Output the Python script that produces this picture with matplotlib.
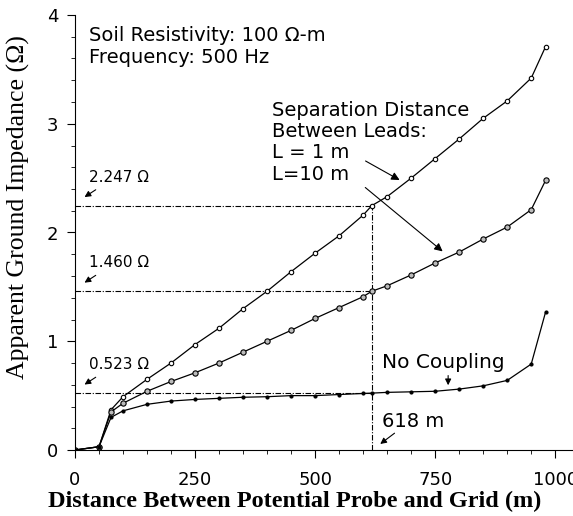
#!/usr/bin/env python3
"""Apparent ground impedance vs. distance between potential probe and grid."""

import matplotlib

matplotlib.use("Agg")
import matplotlib.pyplot as plt  # noqa: E402
from matplotlib.ticker import MultipleLocator  # noqa: E402

# distances (m)
dist_l1 = [0, 50, 75, 100, 150, 200, 250, 300, 350, 400, 450, 500, 550, 600,
           618, 650, 700, 750, 800, 850, 900, 950, 980]
imp_l1 = [0.0, 0.03, 0.37, 0.49, 0.65, 0.80, 0.97, 1.12, 1.30, 1.46, 1.64,
          1.81, 1.97, 2.16, 2.247, 2.33, 2.50, 2.68, 2.86, 3.05, 3.21, 3.42, 3.71]

dist_l10 = [0, 50, 75, 100, 150, 200, 250, 300, 350, 400, 450, 500, 550, 600,
            618, 650, 700, 750, 800, 850, 900, 950, 980]
imp_l10 = [0.0, 0.03, 0.35, 0.43, 0.54, 0.63, 0.71, 0.80, 0.90, 1.00, 1.10,
           1.21, 1.31, 1.41, 1.460, 1.51, 1.61, 1.72, 1.82, 1.94, 2.05, 2.21, 2.48]

dist_nc = [0, 50, 75, 100, 150, 200, 250, 300, 350, 400, 450, 500, 550, 600,
           618, 650, 700, 750, 800, 850, 900, 950, 980]
imp_nc = [0.0, 0.03, 0.30, 0.36, 0.42, 0.45, 0.465, 0.475, 0.485, 0.49, 0.50,
          0.50, 0.51, 0.52, 0.523, 0.53, 0.535, 0.54, 0.56, 0.59, 0.64, 0.79, 1.27]

marked_x = 618
marked_y = [2.247, 1.460, 0.523]
marked_labels = ["2.247 Ω", "1.460 Ω", "0.523 Ω"]

SANS = "DejaVu Sans"
SERIF = "Liberation Serif"

fig = plt.figure(figsize=(5.73, 5.16), dpi=100)
ax = fig.add_axes([75 / 573, 66 / 516, 498 / 573, 435 / 516])

line_kw = dict(color="black", lw=0.9, marker="o", mec="black", mew=0.8)
ax.plot(dist_l1, imp_l1, ms=3.2, mfc="white", **line_kw)
ax.plot(dist_l10, imp_l10, ms=3.8, mfc="#bbbbbb", **line_kw)
ax.plot(dist_nc, imp_nc, ms=2.2, mfc="black", **line_kw)

# reference lines at 618 m
dd = (5, 1.5, 1, 1.5)
for yv in marked_y:
    ax.plot([0, marked_x], [yv, yv], color="black", lw=0.8, dashes=dd, zorder=1)
ax.plot([marked_x, marked_x], [0, marked_y[0]], color="black", lw=0.8, dashes=dd, zorder=1)

ax.set_xlim(0, 1037)
ax.set_ylim(0, 4)
ax.xaxis.set_major_locator(MultipleLocator(250))
ax.xaxis.set_minor_locator(MultipleLocator(50))
ax.yaxis.set_major_locator(MultipleLocator(1))
ax.yaxis.set_minor_locator(MultipleLocator(0.2))
ax.spines["top"].set_visible(False)
ax.spines["right"].set_visible(False)
ax.tick_params(which="major", length=6, width=0.8, labelsize=13)
ax.tick_params(axis="x", which="major", pad=9)
ax.tick_params(axis="y", which="major", pad=6)
ax.tick_params(which="minor", length=3, width=0.6)
for lab in ax.get_xticklabels() + ax.get_yticklabels():
    lab.set_family(SANS)

ax.set_xlabel("Distance Between Potential Probe and Grid (m)",
              family=SERIF, fontsize=17.5, fontweight="bold")
ax.set_ylabel("Apparent Ground Impedance (Ω)", family=SERIF, fontsize=18.5)
ax.xaxis.set_label_coords(0.442, -0.095)
ax.yaxis.set_label_coords(-0.09, 0.559)

txt = dict(family=SANS, fontsize=14, color="black")
ax.text(30, 3.71, "Soil Resistivity: 100 Ω-m\nFrequency: 500 Hz",
        va="center", ha="left", linespacing=1.15, **txt)
ax.text(410, 2.83, "Separation Distance\nBetween Leads:\nL = 1 m\nL=10 m",
        va="center", ha="left", linespacing=1.15, **txt)

arrow_small = dict(arrowstyle="-|>", color="black", lw=0.8, mutation_scale=9)
for yv, lab in zip(marked_y, marked_labels):
    ax.annotate("", xy=(15, yv + 0.065), xytext=(48, yv + 0.16), arrowprops=arrow_small)
    ax.text(30, yv + 0.26, lab, family=SANS, fontsize=11, va="center", ha="left")

ax.annotate("", xy=(631, 0.04), xytext=(670, 0.17), arrowprops=arrow_small)
ax.text(639, 0.265, "618 m", family=SANS, fontsize=14, va="center", ha="left")

ax.annotate("", xy=(777, 0.57), xytext=(777, 0.71), arrowprops=arrow_small)
ax.text(639, 0.80, "No Coupling", family=SANS, fontsize=14.5, va="center", ha="left")

arrow_big = dict(arrowstyle="-|>", color="black", lw=0.8, mutation_scale=12)
ax.annotate("", xy=(681, 2.47), xytext=(600, 2.67), arrowprops=arrow_big)
ax.annotate("", xy=(770, 1.81), xytext=(600, 2.43), arrowprops=arrow_big)

fig.savefig("out.png", dpi=100)
